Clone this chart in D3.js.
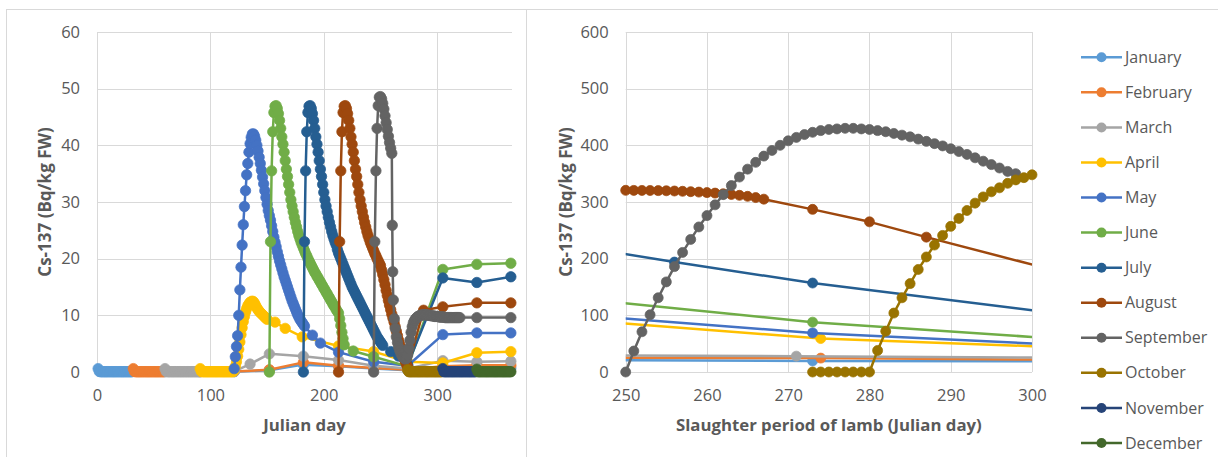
<!DOCTYPE html>
<html><head><meta charset="utf-8">
<script src="https://cdn.jsdelivr.net/npm/d3@7"></script>
<style>body{margin:0;background:#fff}svg{display:block}text{font-family:"Open Sans",sans-serif}</style>
</head><body><svg id="c" width="1218" height="457"></svg>
<script>
const months = ["January","February","March","April","May","June","July","August","September","October","November","December"];
const colors = ["#5B9BD5","#ED7D31","#A5A5A5","#FFC000","#4472C4","#70AD47","#255E91","#9E480E","#636363","#997300","#264478","#43682B"];

const leftYTicks = [0,10,20,30,40,50,60];
const leftXTicks = [0,100,200,300];
const rightYTicks = [0,100,200,300,400,500,600];
const rightXTicks = [250,260,270,280,290,300];

// ---- Left chart: daily values (from start day) + sparse tail points [day, value]
const janStart = 1;
const janDaily = [0.6,0.1,0.05,0.05,0.05,0.05,0.05,0.05,0.05,0.05,0.05,0.05,0.05,0.05,0.05,0.05,0.05,0.05,0.05,0.05,0.05,0.05,0.05,0.05,0.05,0.05,0.05,0.05,0.05,0.05,0.05];
const janTail = [[60,0.05],[91,0.05],[121,0.05],[152,0.3],[182,1.3],[213,1.0],[244,0.6],[274,0.3],[305,0.6],[335,0.7],[365,0.7]];

const febStart = 32;
const febDaily = [0.6,0.1,0.05,0.05,0.05,0.05,0.05,0.05,0.05,0.05,0.05,0.05,0.05,0.05,0.05,0.05,0.05,0.05,0.05,0.05,0.05,0.05,0.05,0.05,0.05,0.05,0.05,0.05];
const febTail = [[91,0.05],[121,0.1],[152,0.4],[182,1.7],[213,1.1],[244,0.7],[274,0.4],[305,1.0],[335,1.2],[365,1.2]];

const marStart = 60;
const marDaily = [0.6,0.1,0.05,0.05,0.05,0.05,0.05,0.05,0.05,0.05,0.05,0.05,0.05,0.05,0.05,0.05,0.05,0.05,0.05,0.05,0.05,0.05,0.05,0.05,0.05,0.05,0.05,0.05,0.05,0.05,0.05];
const marTail = [[121,0.1],[135,1.4],[152,3.2],[182,2.8],[213,2.1],[244,1.1],[274,0.6],[305,2.0],[335,1.8],[365,1.9]];

const aprStart = 91;
const aprDaily = [0.6,0.1,0.05,0.05,0.05,0.05,0.05,0.05,0.05,0.05,0.05,0.05,0.05,0.05,0.05,0.05,0.05,0.05,0.05,0.05,0.05,0.05,0.05,0.05,0.05,0.05,0.05,0.05,0.05,0.05,
  0.4,1.0,1.8,2.8,4.0,5.3,6.6,7.8,8.9,9.8,10.6,11.2,11.7,12.0,12.3,12.4,12.5,12.4,12.1,11.7,11.3,11.0,10.7,10.5,10.3,10.1,9.9,9.7,9.5,9.3];
const aprTail = [[157,8.8],[166,7.7],[181,6.2],[213,4.6],[244,3.6],[274,1.8],[305,1.6],[335,3.4],[365,3.6]];

const mayStart = 121;
const mayDaily = [0.6,2.7,4.5,6.4,10.0,14.5,18.5,22.4,26.0,29.2,32.0,34.8,36.8,38.8,40.3,41.4,42.0,
  42.0,41.6,40.9,40.0,39.0,37.9,36.8,35.6,34.4,33.2,32.0,30.8,29.6,28.5,27.6,26.8,
  25.8,24.8,23.8,22.9,22.1,21.2,20.4,19.6,18.9,18.2,17.5,16.8,16.2,15.6,15.0,
  14.4,13.8,13.2,12.6,12.1,11.6,11.1,10.6,10.1,9.7,9.3,9.0,8.7,8.4,8.1];
const mayTail = [[190,6.5],[197,5.1],[213,3.5],[244,1.8],[274,1.1],[305,6.6],[335,6.9],[365,6.9]];

const junStart = 152;
const junDaily = [0,23,35.5,42.4,45.8,46.9,47.0,46.5,45.6,44.4,
  43.0,41.5,40.2,38.8,37.3,35.8,34.5,33.1,31.7,30.4,
  29.3,28.3,27.3,26.4,25.6,24.8,24.1,23.5,22.9,22.4,
  21.9,21.4,20.9,20.5,20.0,19.6,19.2,18.8,18.4,18.0,
  17.6,17.3,16.9,16.6,16.2,15.9,15.5,15.2,14.8,14.5,
  14.1,13.8,13.4,13.1,12.7,12.4,12.0,11.7,11.4,11.0,
  10.7,10.4,9.4,8.2,7.0,5.9,4.8];
const junTail = [[226,3.7],[244,2.7],[274,1.0],[305,18.1],[335,19.0],[365,19.2]];

const julStart = 182;
const julDaily = [0,23,35.5,42.4,45.8,46.9,47.0,46.5,45.6,44.4,
  43.0,41.5,40.2,38.8,37.3,35.8,34.5,33.1,31.7,30.4,
  29.3,28.3,27.3,26.4,25.6,24.8,24.1,23.5,22.9,22.4,
  21.6,21.0,20.5,20.0,19.5,19.0,18.5,18.0,17.5,17.0,
  16.5,16.0,15.5,15.0,14.6,14.2,13.8,13.4,13.0,12.6,
  12.2,11.8,11.4,11.0,10.6,10.2,9.8,9.4,9.0,8.6,
  8.2,7.8,7.4,7.0,6.6,6.2,5.9,5.6,5.3,5.0,4.7];
const julTail = [[259,3.6],[266,2.8],[274,1.3],[305,16.6],[335,15.8],[365,16.8]];

const augStart = 213;
const augDaily = [0,23,35.5,42.4,45.8,46.9,47.0,46.5,45.6,44.4,
  43.0,41.5,40.2,38.8,37.3,35.8,34.5,33.1,31.7,30.4,
  29.3,28.3,27.3,26.4,25.6,24.8,24.1,23.5,22.9,22.4,
  21.9,21.4,20.9,20.5,20.0,19.6,19.2,18.8,
  18.0,17.2,16.3,15.4,14.4,13.5,12.6,11.8,11.0,10.2,9.5,8.8,8.0,7.2,6.4,5.6,4.9,4.2,3.5,2.9,2.3,1.8,1.3,0.9];
const augTail = [[288,10.9],[305,11.5],[335,12.2],[365,12.2]];

const sepPoints = [[244,0],[245,23],[246,35.5],[247,43],[248,47],[249,48.5],[250,48.6],[251,48.2],[252,47.4],[253,46.4],
  [254,45.2],[255,44],[256,42.8],[257,41.6],[258,40.5],[259,39.5],[260,38.6],[260.4,25.9],[260.8,17.7],[261.3,12.7],
  [262.2,9.4],[263,7.7],[264,6.2],[265,5.2],[266,4.4],[267,3.8],[268,3.3],[269,2.9],[270,2.6],[271,2.4],[272,2.3],
  [273,2.4],[274,3.0],[275,4.2],[276,5.6],[277,7.0],[278,8.0],[279,8.7],[280,9.1],[281,9.4],[282,9.6],[283,9.8],
  [284,9.9],[285,10.0],[286,10.0],[287,10.1],[288,10.1],[289,10.1],[290,10.1],[291,10.1],[292,10.0],[293,10.0],
  [294,10.0],[295,9.9],[296,9.9],[297,9.9],[298,9.8],[299,9.8],[300,9.8],[301,9.8],[302,9.7],[303,9.7],[304,9.7],
  [305,9.7],[306,9.7],[307,9.6],[308,9.6],[309,9.6],[310,9.6],[311,9.6],[312,9.6],[313,9.6],[314,9.6],[315,9.6],
  [316,9.6],[317,9.6],[318,9.6],[319,9.6],[320,9.6],[335,9.6],[365,9.6]];

const octStart = 274;
const octDaily = [0.4,0.05,0.05,0.05,0.05,0.05,0.05,0.05,0.05,0.05,0.05,0.05,0.05,0.05,0.05,0.05,0.05,0.05,0.05,0.05,0.05,0.05,0.05,0.05,0.05,0.05,0.05,0.05,0.05,0.05,0.05];
const novStart = 305;
const novDaily = [0.6,0.05,0.05,0.05,0.05,0.05,0.05,0.05,0.05,0.05,0.05,0.05,0.05,0.05,0.05,0.05,0.05,0.05,0.05,0.05,0.05,0.05,0.05,0.05,0.05,0.05,0.05,0.05,0.05,0.05];
const decStart = 335;
const decDaily = [0.5,0.05,0.05,0.05,0.05,0.05,0.05,0.05,0.05,0.05,0.05,0.05,0.05,0.05,0.05,0.05,0.05,0.05,0.05,0.05,0.05,0.05,0.05,0.05,0.05,0.05,0.05,0.05,0.05,0.05,0.05];

// ---- Right chart: [day, value]; points outside 250-300 only shape the clipped lines
const rJan = [[244,21],[273,19.5],[305,19]];
const rFeb = [[244,25.5],[274,24.5],[305,21.5]];
const rMar = [[244,29.5],[271,28],[305,25]];
const rApr = [[244,92],[274,59],[305,43]];
const rMay = [[244,101],[273,69],[305,47]];
const rJun = [[244,130],[273,88],[305,57]];
const rJul = [[244,222],[256,194],[273,157],[305,100]];
const rAug = [[250,320.6],[251,320.5],[252,320.4],[253,320.3],[254,320.1],[255,319.8],[256,319.4],[257,318.9],[258,318.2],
  [259,317.5],[260,316.6],[261,315.7],[262,314.5],[263,313.2],[264,311.8],[265,310],[266,307.8],[267,305],
  [273,287],[280,265],[287,238],[305,171]];
const rSepStart = 250;
const rSepDaily = [0,37,71,101,131,159,186,211,234,256,276,295,313,329,344,358,370,381,391,400,408,414,419,423,426,428,429,430,430,
  429,428,426,424,421,418,415,411,407,403,399,394,389,384,378,372,366,360,354,350];
const rOctStart = 273;
const rOctDaily = [0,0,0,0,0,0,0,0,38,72,104,131,156,181,203,224,241,257,271,285,298,309,318,325,333,339,343,348];
const rNov = [];
const rDec = [];

// ---- build series
const daily = (s, arr) => arr.map((v,k)=>[s+k, v]);
const leftSeries = [
  daily(janStart,janDaily).concat(janTail),
  daily(febStart,febDaily).concat(febTail),
  daily(marStart,marDaily).concat(marTail),
  daily(aprStart,aprDaily).concat(aprTail),
  daily(mayStart,mayDaily).concat(mayTail),
  daily(junStart,junDaily).concat(junTail),
  daily(julStart,julDaily).concat(julTail),
  daily(augStart,augDaily).concat(augTail),
  sepPoints,
  daily(octStart,octDaily),
  daily(novStart,novDaily),
  daily(decStart,decDaily)
];
const rightSeries = [rJan,rFeb,rMar,rApr,rMay,rJun,rJul,rAug,daily(rSepStart,rSepDaily),daily(rOctStart,rOctDaily),rNov,rDec];

const svg = d3.select("#c");
const GRID = "#d9d9d9", TXT = "#595959";

// chart area borders
svg.append("line").attr("x1",6).attr("x2",1218).attr("y1",9.5).attr("y2",9.5).attr("stroke",GRID);
svg.append("line").attr("x1",6.5).attr("x2",6.5).attr("y1",9.5).attr("y2",457).attr("stroke",GRID);
svg.append("line").attr("x1",526.5).attr("x2",526.5).attr("y1",9.5).attr("y2",457).attr("stroke",GRID);

function drawChart(cfg){
  const {x, y, xTicks, yTicks, series, xTitle, yTitle, yTitleX, clip, r} = cfg;
  const [x0,x1] = x.range(), [y0,y1] = y.range();
  const g = svg.append("g");
  // gridlines
  g.append("g").selectAll("line").data(yTicks).join("line")
    .attr("x1",x0).attr("x2",x1).attr("y1",d=>Math.round(y(d))+0.5).attr("y2",d=>Math.round(y(d))+0.5)
    .attr("stroke",GRID).attr("stroke-width",1);
  g.append("g").selectAll("line").data(xTicks).join("line")
    .attr("y1",y1).attr("y2",y0).attr("x1",d=>Math.round(x(d))+0.5).attr("x2",d=>Math.round(x(d))+0.5)
    .attr("stroke",GRID).attr("stroke-width",1);
  // tick labels via axes
  const ya = g.append("g").attr("transform",`translate(${x0},0)`)
    .call(d3.axisLeft(y).tickValues(yTicks).tickSize(0).tickPadding(17));
  const xa = g.append("g").attr("transform",`translate(0,${y0})`)
    .call(d3.axisBottom(x).tickValues(xTicks).tickSize(0).tickPadding(17));
  [ya,xa].forEach(a=>{a.select(".domain").remove();a.selectAll("text").attr("fill",TXT).style("font-size","16.5px").style("font-family","'Open Sans',sans-serif");});
  // titles
  g.append("text").attr("x",(x0+x1)/2).attr("y",431).attr("text-anchor","middle")
    .attr("fill",TXT).style("font-size","16.8px").style("font-weight","bold").text(xTitle);
  g.append("text").attr("transform",`translate(${yTitleX},${(y0+y1)/2}) rotate(-90)`).attr("text-anchor","middle")
    .attr("dy","0.35em").attr("fill",TXT).style("font-size","17px").style("font-weight","bold").text(yTitle);
  // series
  let clipId = null;
  if (clip){
    clipId = "clip"+Math.round(x0);
    svg.append("defs").append("clipPath").attr("id",clipId).append("rect")
      .attr("x",x0).attr("y",y1-10).attr("width",x1-x0).attr("height",y0-y1+20);
  }
  const [dx0,dx1] = x.domain();
  const line = d3.line().x(d=>x(d[0])).y(d=>y(d[1]));
  series.forEach((pts,i)=>{
    if(!pts.length) return;
    const sg = g.append("g");
    const lp = sg.append("path").datum(pts).attr("d",line).attr("fill","none")
      .attr("stroke",colors[i]).attr("stroke-width",2.5).attr("stroke-linejoin","round");
    if (clipId) lp.attr("clip-path",`url(#${clipId})`);
    sg.selectAll("circle").data(pts.filter(d=>d[0]>=dx0 && d[0]<=dx1)).join("circle")
      .attr("cx",d=>x(d[0])).attr("cy",d=>y(d[1])).attr("r",r)
      .attr("fill",colors[i]).attr("stroke",colors[i]).attr("stroke-width",0.75);
  });
}

drawChart({
  x: d3.scaleLinear([0,366],[97,512]),
  y: d3.scaleLinear([0,60],[372,32]),
  xTicks: leftXTicks, yTicks: leftYTicks, series: leftSeries,
  xTitle: "Julian day", yTitle: "Cs-137 (Bq/kg FW)", yTitleX: 45, clip: false, r: 5.2
});
drawChart({
  x: d3.scaleLinear([250,300],[625.7,1032]),
  y: d3.scaleLinear([0,600],[372,32]),
  xTicks: rightXTicks, yTicks: rightYTicks, series: rightSeries,
  xTitle: "Slaughter period of lamb (Julian day)", yTitle: "Cs-137 (Bq/kg FW)", yTitleX: 566, clip: true, r: 5
});

// legend
const lg = svg.append("g");
const legY = d3.scaleLinear([0,11],[57.3,443]);
months.forEach((m,i)=>{
  const yy = legY(i);
  lg.append("line").attr("x1",1081).attr("x2",1122).attr("y1",yy).attr("y2",yy).attr("stroke",colors[i]).attr("stroke-width",2.5);
  lg.append("circle").attr("cx",1101.5).attr("cy",yy).attr("r",5).attr("fill",colors[i]);
  lg.append("text").attr("x",1125).attr("y",yy).attr("dy","0.35em").attr("fill",TXT).style("font-size","16px").text(m);
});
</script></body></html>
